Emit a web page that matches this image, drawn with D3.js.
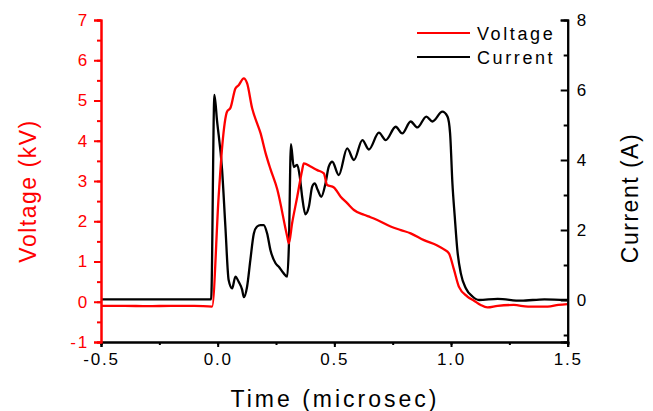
<!DOCTYPE html>
<meta charset="utf-8">
<style>
body { margin: 0; background: #fff; }
svg { font-family: "Liberation Sans", Arial, sans-serif; }
.tick text { font-size: 17px; letter-spacing: 1.8px; }
</style>
<svg width="653" height="411"></svg>
<script src="https://cdn.jsdelivr.net/npm/d3@7"></script>
<script>

// voltage trace (kV) vs time (microsec)
var timeV = [-0.5, -0.4, -0.3, -0.2, -0.1, -0.024, 0.004, 0.02, 0.04, 0.055, 0.076, 0.09, 0.112, 0.126,
  0.148, 0.169, 0.183, 0.205, 0.226, 0.255, 0.298, 0.305, 0.319, 0.341, 0.362, 0.369, 0.398, 0.427,
  0.455, 0.469, 0.498, 0.527, 0.555, 0.584, 0.627, 0.655, 0.684, 0.741, 0.785, 0.827, 0.884, 0.941,
  0.97, 0.991, 1.013, 1.034, 1.07, 1.1, 1.127, 1.156, 1.2, 1.269, 1.33, 1.414, 1.46, 1.5];
var voltage = [-0.1, -0.1, -0.11, -0.1, -0.1, -0.12, 2.6, 3.9, 4.72, 4.82, 5.3, 5.38, 5.55, 5.43,
  4.8, 4.43, 4.2, 3.7, 3.3, 2.8, 1.62, 1.45, 1.95, 2.61, 3.27, 3.44, 3.36, 3.27,
  3.19, 2.9, 2.84, 2.61, 2.45, 2.28, 2.16, 2.1, 2.03, 1.87, 1.78, 1.7, 1.53, 1.4,
  1.3, 1.2, 0.79, 0.37, 0.13, 0.02, -0.08, -0.14, -0.1, -0.08, -0.12, -0.12, -0.08, -0.06];

// current trace (A) vs time (microsec)
var timeI = [-0.5, -0.3, -0.1, -0.028, -0.014, -0.003, 0.019, 0.033, 0.047, 0.062, 0.076, 0.09, 0.105,
  0.112, 0.126, 0.14, 0.155, 0.169, 0.183, 0.197, 0.212, 0.226, 0.248, 0.262, 0.283, 0.298, 0.305,
  0.314, 0.326, 0.341, 0.352, 0.362, 0.376, 0.391, 0.405, 0.416, 0.429, 0.444, 0.462, 0.476, 0.491,
  0.519, 0.555, 0.584, 0.62, 0.648, 0.691, 0.72, 0.763, 0.791, 0.827, 0.856, 0.894, 0.92, 0.963,
  0.985, 0.996, 1.006, 1.016, 1.027, 1.042, 1.064, 1.092, 1.12, 1.2, 1.3, 1.4, 1.5];
var current = [0.02, 0.02, 0.02, 0.02, 5.86, 5.14, 3.71, 2.1, 0.57, 0.33, 0.67, 0.52, 0.29,
  0.08, 0.38, 1.14, 1.9, 2.1, 2.14, 2.14, 1.9, 1.43, 1.05, 0.95, 0.76, 0.67, 1.52,
  4.45, 3.8, 3.86, 3.52, 2.95, 2.45, 2.67, 3.24, 3.33, 3.14, 2.95, 3.33, 3.81, 3.95,
  3.57, 4.33, 4.0, 4.57, 4.3, 4.78, 4.57, 4.95, 4.76, 5.1, 4.93, 5.24, 5.1, 5.38,
  5.24, 4.76, 3.33, 2.38, 1.43, 0.76, 0.33, 0.1, 0.0, 0.03, -0.02, 0.02, 0.0];

var seriesNames = ["Voltage", "Current"];
var seriesColors = ["#ff0000", "#000000"];

var svg = d3.select("svg");
var mLeft = 101, mRight = 567.7, mTop = 20, mBottom = 342;

var x = d3.scaleLinear().domain([-0.5, 1.5]).range([mLeft, mRight]);
var yV = d3.scaleLinear().domain([-1, 7]).range([mBottom, mTop]);
var yI = d3.scaleLinear().domain([-1.2, 8]).range([mBottom, mTop]);

var lineV = d3.line()
    .x(function(d, i) { return x(timeV[i]); })
    .y(function(d) { return yV(d); })
    .curve(d3.curveMonotoneX);
var lineI = d3.line()
    .x(function(d, i) { return x(timeI[i]); })
    .y(function(d) { return yI(d); })
    .curve(d3.curveMonotoneX);

svg.append("path").datum(current)
    .attr("d", lineI).attr("fill", "none")
    .attr("stroke", seriesColors[1]).attr("stroke-width", 2.3);
svg.append("path").datum(voltage)
    .attr("d", lineV).attr("fill", "none")
    .attr("stroke", seriesColors[0]).attr("stroke-width", 2.3);

// bottom axis
var gx = svg.append("g").attr("transform", "translate(0," + mBottom + ")");
gx.call(d3.axisBottom(x).tickValues(d3.range(-0.5, 1.51, 0.25)).tickSize(3).tickFormat(""));
gx.append("g").call(d3.axisBottom(x).tickValues([-0.5, 0, 0.5, 1, 1.5]).tickSize(5).tickPadding(6)
    .tickFormat(function(d) { return d.toFixed(1); }));
gx.selectAll("path, line").attr("stroke", "#000").attr("stroke-width", 2);
gx.selectAll("text").attr("fill", "#000");

// left axis (voltage)
var gl = svg.append("g").attr("transform", "translate(" + mLeft + ",0)");
gl.call(d3.axisLeft(yV).tickValues(d3.range(-1, 7.01, 0.5)).tickSize(4).tickFormat(""));
gl.append("g").call(d3.axisLeft(yV).ticks(8).tickSize(7).tickPadding(5)
    .tickFormat(function(d) { return String(d); }));
gl.selectAll("path, line").attr("stroke", "#ff0000").attr("stroke-width", 2);
gl.selectAll("text").attr("fill", "#ff0000");

// right axis (current), ticks pointing inward
var gr = svg.append("g").attr("transform", "translate(" + mRight + ",0)");
gr.call(d3.axisLeft(yI).tickValues([-1, 1, 3, 5, 7]).tickSize(4).tickFormat(""));
gr.append("g").call(d3.axisLeft(yI).tickValues([0, 2, 4, 6, 8]).tickSize(7)
    .tickFormat(function(d) { return String(d); }));
gr.selectAll("path, line").attr("stroke", "#000").attr("stroke-width", 2);
gr.selectAll("text").attr("fill", "#000").attr("text-anchor", "start").attr("x", 9);

// axis titles
svg.append("text")
    .attr("transform", "translate(36,191) rotate(-90)")
    .attr("text-anchor", "middle")
    .attr("fill", "#ff0000")
    .style("font-size", "23px").style("letter-spacing", "1.5px")
    .text("Voltage (kV)");
svg.append("text")
    .attr("transform", "translate(638,198) rotate(-90)")
    .attr("text-anchor", "middle")
    .attr("fill", "#000")
    .style("font-size", "23px").style("letter-spacing", "1.5px")
    .text("Current (A)");
svg.append("text")
    .attr("x", 335).attr("y", 407)
    .attr("text-anchor", "middle")
    .attr("fill", "#000")
    .style("font-size", "23px").style("letter-spacing", "3px")
    .text("Time (microsec)");

// legend
var legend = svg.append("g").selectAll("g")
    .data(seriesNames).enter().append("g")
    .attr("transform", function(d, i) { return "translate(417," + (33 + i * 24) + ")"; });
legend.append("line")
    .attr("x1", 0).attr("x2", 53)
    .attr("stroke", function(d, i) { return seriesColors[i]; })
    .attr("stroke-width", 2);
legend.append("text")
    .attr("x", 60).attr("y", 7)
    .style("font-size", "18px").style("letter-spacing", "2.6px")
    .attr("fill", "#000")
    .text(function(d) { return d; });

</script>
